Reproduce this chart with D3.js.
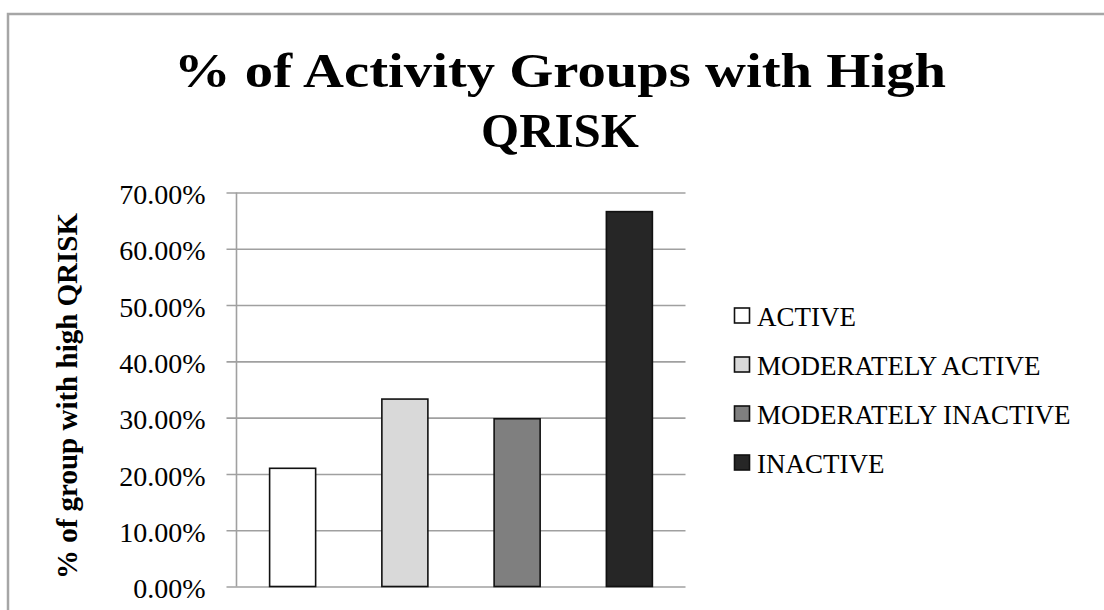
<!DOCTYPE html>
<html>
<head>
<meta charset="utf-8">
<script src="https://cdn.jsdelivr.net/npm/d3@7"></script>
<style>
  body { margin: 0; background: #fff; }
  svg text { font-family: "Liberation Serif", "Times New Roman", serif; fill: #000; }
</style>
</head>
<body>
<div id="chart"></div>
<script>
// data
var categories = ["ACTIVE", "MODERATELY ACTIVE", "MODERATELY INACTIVE", "INACTIVE"];
var values = [0.21, 0.333, 0.298, 0.666];
var colors = ["#ffffff", "#d9d9d9", "#7f7f7f", "#262626"];
var yTicks = [0, 0.1, 0.2, 0.3, 0.4, 0.5, 0.6, 0.7];
var titleLines = ["% of Activity Groups with High", "QRISK"];
var titleWidths = [772, 158];
var yLabel = "% of group with high QRISK";

var W = 1104, H = 610;
var margin = {top: 192.5, left: 236.5},
    width = 449,
    height = 394;

var svg = d3.select("#chart")
  .append("svg")
  .attr("width", W)
  .attr("height", H);

// outer frame of the chart
svg.append("rect")
  .attr("x", 8).attr("y", 14)
  .attr("width", 1120).attr("height", 640)
  .attr("fill", "none")
  .attr("stroke", "#a6a6a6")
  .attr("stroke-width", 2.5);

// title (stretched a bit, the original font is wider)
svg.append("text")
  .attr("x", 560)
  .attr("y", 87)
  .attr("text-anchor", "middle")
  .style("font-size", "49px")
  .style("font-weight", "bold")
  .selectAll("tspan")
  .data(titleLines)
  .enter()
  .append("tspan")
    .attr("x", 560)
    .attr("dy", function(d, i) { return i == 0 ? 0 : 59.5; })
    .attr("textLength", function(d, i) { return titleWidths[i]; })
    .attr("lengthAdjust", "spacingAndGlyphs")
    .text(function(d) { return d; });

var g = svg.append("g")
  .attr("transform", "translate(" + margin.left + "," + margin.top + ")");

var x = d3.scaleBand()
  .domain(categories)
  .range([0, width])
  .paddingInner(0.59)
  .paddingOuter(0.295);

var y = d3.scaleLinear()
  .domain([0, 0.7])
  .range([height, 0]);

// gridlines + ticks
var yAxis = g.append("g")
  .call(d3.axisLeft(y)
    .tickValues(yTicks)
    .tickSize(-width)
    .tickPadding(31)
    .tickFormat(d3.format(".2%")));

yAxis.select(".domain").remove();
yAxis.selectAll(".tick line")
  .attr("x1", -10)
  .attr("stroke", "#a0a0a0")
  .attr("stroke-width", 1.6);
yAxis.selectAll(".tick text")
  .attr("dy", "0.4em")
  .style("font-size", "28px")
  .style("font-family", "Liberation Serif")
  .attr("fill", "#111");

// vertical axis line
g.append("line")
  .attr("x1", 0).attr("x2", 0)
  .attr("y1", y(0.7)).attr("y2", y(0))
  .attr("stroke", "#a0a0a0")
  .attr("stroke-width", 1.6);

// bars
g.selectAll("rect.bar")
  .data(values)
  .enter()
  .append("rect")
    .attr("class", "bar")
    .attr("x", function(d, i) { return x(categories[i]); })
    .attr("y", function(d) { return y(d); })
    .attr("width", x.bandwidth())
    .attr("height", function(d) { return y(0) - y(d); })
    .attr("fill", function(d, i) { return colors[i]; })
    .attr("stroke", "#111")
    .attr("stroke-width", 1.6);

// y axis title
svg.append("text")
  .attr("transform", "translate(77,396) rotate(-90)")
  .attr("text-anchor", "middle")
  .style("font-size", "29px")
  .style("font-weight", "bold")
  .text(yLabel);

// legend
var legend = svg.append("g")
  .attr("transform", "translate(734,326)");

var item = legend.selectAll("g")
  .data(categories)
  .enter()
  .append("g")
    .attr("transform", function(d, i) { return "translate(0," + (i * 49) + ")"; });

item.append("rect")
  .attr("x", 0.5)
  .attr("y", -18)
  .attr("width", 15)
  .attr("height", 15)
  .attr("fill", function(d, i) { return colors[i]; })
  .attr("stroke", "#111")
  .attr("stroke-width", 1.6);

item.append("text")
  .attr("x", 23)
  .attr("y", 0)
  .style("font-size", "27px")
  .attr("fill", "#111")
  .text(function(d) { return d; });
</script>
</body>
</html>
